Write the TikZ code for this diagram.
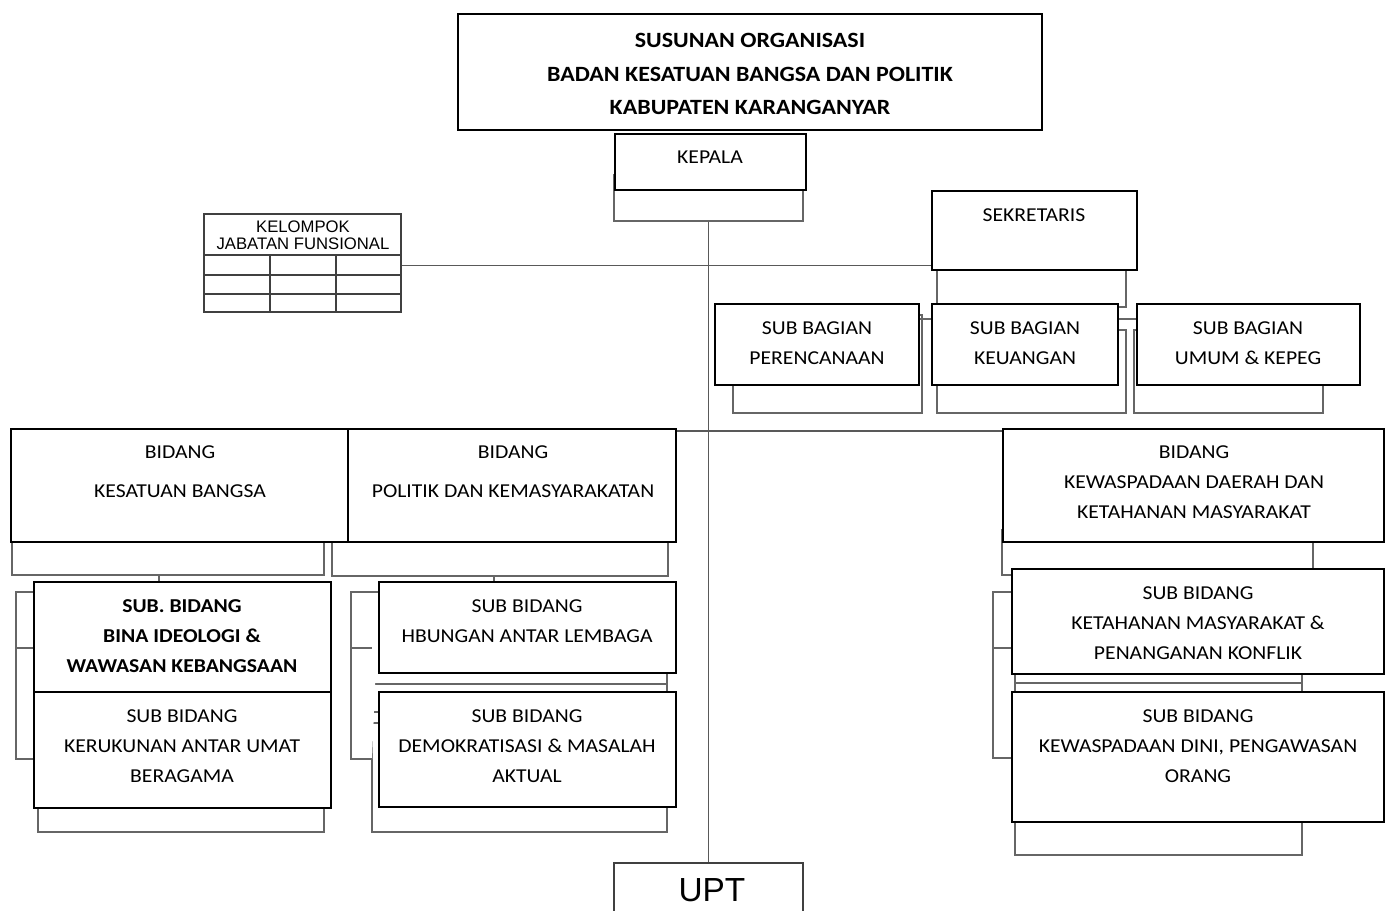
\documentclass[tikz,border=0pt]{standalone}
\usepackage{fontspec}
\setmainfont{Carlito}[FakeStretch=1.1]
\newfontfamily\arialfont{Liberation Sans}
\usetikzlibrary{fit}

\begin{document}
\begin{tikzpicture}[x=0.02cm, y=-0.02cm,
    box/.style={draw=black, line width=1.1pt, fill=white, inner sep=0pt},
    ghost/.style={draw=black!60, line width=0.7pt, fill=white},
    ghostbox/.style={ghost, inner sep=0pt},
    link/.style={draw=black!65, line width=0.8pt},
    grid/.style={draw=black!75, line width=0.7pt},
    txt/.style={align=center, inner sep=0pt, font=\fontsize{11.2}{17}\selectfont},
    head/.style={align=center, inner sep=0pt, font=\fontsize{12.4}{19}\selectfont\bfseries}]

  \useasboundingbox (0,0) rectangle (1389,911);

  %%%%%%%%%%%%%%%%%%%%%%%%%%%%%%%%%%%%%%%%%%%%%%%%%
  % Gray boxes underneath
  \node[ghostbox, fit={(614,175) (803,221)}] (kepalaG) {};
  \draw[ghost] (937,255) rectangle (1126,307);
  \draw[ghost] (733,315) rectangle (922,413);
  \draw[ghost] (937,330) rectangle (1126,413);
  \draw[ghost] (1134,330) rectangle (1323,413);

  \draw[ghost] (12,530) rectangle (324,575);
  \draw[ghost] (332,530) rectangle (668,576);
  \draw[ghost] (1002,530) rectangle (1313,575);

  \draw[ghost] (38,790) rectangle (324,832);
  \draw[ghost] (372,607) rectangle (667,712);
  \draw[ghost] (372,684) -- (667,684);
  \draw[ghost] (372,723) rectangle (667,832);
  \draw[ghost] (1015,600) rectangle (1302,712);
  \draw[ghost] (1015,683) -- (1302,683);
  \draw[ghost] (1015,723) rectangle (1302,855);

  % Brackets
  \draw[ghost] (34,592) -- (16,592) -- (16,759) -- (34,759) (16,648) -- (34,648);
  \draw[ghost] (379,592) -- (351,592) -- (351,759) -- (372,759) (351,648) -- (372,648);
  \draw[ghost] (1012,592) -- (993,592) -- (993,758) -- (1012,758) (993,648) -- (1012,648);
  \draw[ghost] (159,575) -- (159,582);
  \draw[ghost] (494,576) -- (494,582);

  %%%%%%%%%%%%%%%%%%%%%%%%%%%%%%%%%%%%%%%%%%%%%%%%%
  % Title and head
  \node[box, fit={(458,14) (1042,130)}] (title) {};
  \node[head] (title-txt) at (750,74)
      {SUSUNAN ORGANISASI\\ BADAN KESATUAN BANGSA DAN POLITIK\\ KABUPATEN KARANGANYAR};

  \node[box, fit={(615,134) (806,190)}] (kepala) {};
  \node[txt] (kepala-txt) at (710,157) {KEPALA};

  % Kelompok jabatan fungsional
  \node[grid, inner sep=0pt, fit={(204,214) (401,312)}] (kelompok) {};
  \foreach \y in {255,275,294}
    \draw[grid] (204,\y) -- (401,\y);
  \foreach \x in {270,336}
    \draw[grid] (\x,255) -- (\x,312);
  \node[align=center, inner sep=0pt, font=\arialfont\fontsize{9.5}{9.6}\selectfont]
      (kelompok-txt) at (303,235) {KELOMPOK\\ JABATAN FUNSIONAL};

  % Sekretariat
  \node[box, fit={(932,191) (1137,270)}] (sekretaris) {};
  \node[txt] (sekretaris-txt) at (1034,215) {SEKRETARIS};

  \draw[ghost] (919,319) -- (932,319);
  \draw[ghost] (1118,319) -- (1137,319);
  \node[box, fit={(715,304) (919,385)}] (perencanaan) {};
  \node[txt] (perencanaan-txt) at (817,343) {SUB BAGIAN\\ PERENCANAAN};
  \node[box, fit={(932,304) (1118,385)}] (keuangan) {};
  \node[txt] (keuangan-txt) at (1025,343) {SUB BAGIAN\\ KEUANGAN};
  \node[box, fit={(1137,304) (1360,385)}] (umum) {};
  \node[txt] (umum-txt) at (1248,343) {SUB BAGIAN\\ UMUM \& KEPEG};

  %%%%%%%%%%%%%%%%%%%%%%%%%%%%%%%%%%%%%%%%%%%%%%%%%
  % Bidang
  \node[box, fit={(11,429) (348,542)}] (kesbang) {};
  \node[txt] (kesbang-txt) at (180,472) {BIDANG\\[5pt] KESATUAN BANGSA};
  \node[box, fit={(348,429) (676,542)}] (politik) {};
  \node[txt] (politik-txt) at (513,472) {BIDANG\\[5pt] POLITIK DAN KEMASYARAKATAN};
  \node[box, fit={(1003,429) (1384,542)}] (waspada) {};
  \node[txt] (waspada-txt) at (1194,482)
      {BIDANG\\ KEWASPADAAN DAERAH DAN\\ KETAHANAN MASYARAKAT};

  % Sub bidang
  \node[box, fit={(34,582) (331,692)}] (ideologi) {};
  \node[txt, font=\fontsize{11.2}{17}\selectfont\bfseries] (ideologi-txt) at (182,636)
      {SUB. BIDANG\\ BINA IDEOLOGI \&\\ WAWASAN KEBANGSAAN};
  \node[box, fit={(34,692) (331,808)}] (kerukunan) {};
  \node[txt] (kerukunan-txt) at (182,746) {SUB BIDANG\\ KERUKUNAN ANTAR UMAT\\ BERAGAMA};

  \node[box, fit={(379,582) (676,673)}] (lembaga) {};
  \node[txt] (lembaga-txt) at (527,621) {SUB BIDANG\\ HBUNGAN ANTAR LEMBAGA};
  \node[box, fit={(379,692) (676,807)}] (demokrasi) {};
  \node[txt] (demokrasi-txt) at (527,746) {SUB BIDANG\\ DEMOKRATISASI \& MASALAH\\ AKTUAL};

  \node[box, fit={(1012,569) (1384,674)}] (ketahanan) {};
  \node[txt] (ketahanan-txt) at (1198,623)
      {SUB BIDANG\\ KETAHANAN MASYARAKAT \&\\ PENANGANAN KONFLIK};
  \node[box, fit={(1012,692) (1384,822)}] (dini) {};
  \node[txt] (dini-txt) at (1198,746)
      {SUB BIDANG\\ KEWASPADAAN DINI, PENGAWASAN\\ ORANG};

  % UPT
  \node[draw=black!75, line width=0.8pt, inner sep=0pt, fit={(614,863) (803,930)}] (upt) {};
  \node[inner sep=0pt, font=\arialfont\fontsize{19}{19}\selectfont] (upt-txt) at (712,890) {UPT};

  %%%%%%%%%%%%%%%%%%%%%%%%%%%%%%%%%%%%%%%%%%%%%%%%%
  % Lines
  \draw[link] (kepalaG.south) -- (kepalaG.south |- upt.north);
  \draw[link] ([yshift=-1.5pt]kelompok.east) -- ([yshift=-1.5pt]kelompok.east -| sekretaris.west);
  \draw[link] ([yshift=-1.7pt]politik.north east) -- ([yshift=-1.7pt]politik.north east -| waspada.west);

\end{tikzpicture}
\end{document}
